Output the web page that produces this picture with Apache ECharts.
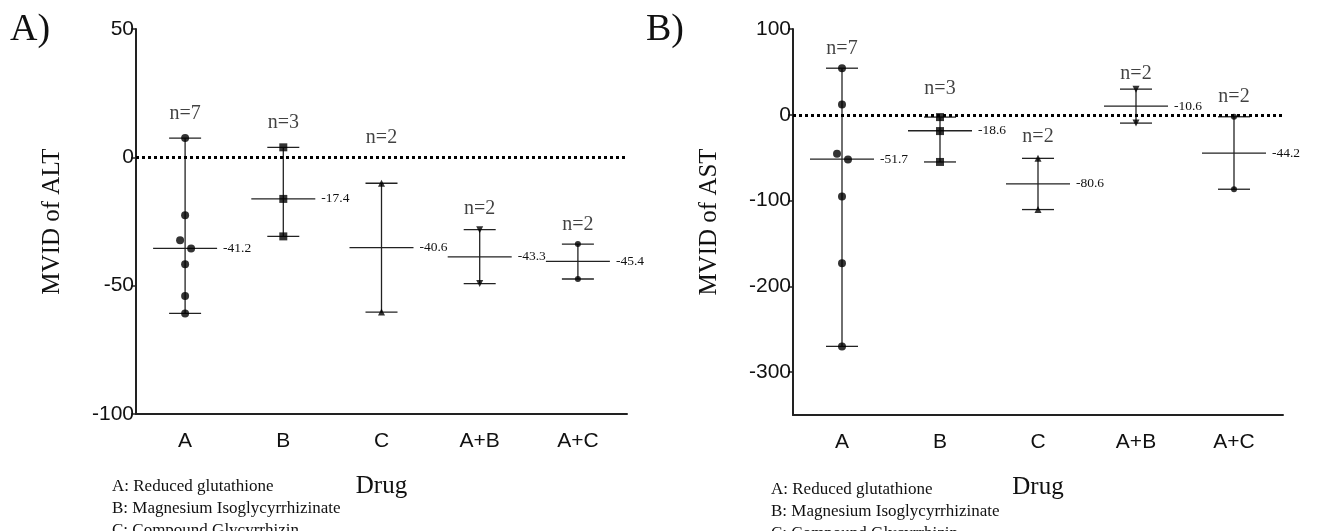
<!DOCTYPE html>
<html>
<head>
<meta charset="utf-8">
<script src="https://cdn.jsdelivr.net/npm/echarts@6/dist/echarts.min.js"></script>
<style>
  html, body { margin: 0; padding: 0; background: #fff; }
  #main { width: 1319px; height: 531px; }
</style>
</head>
<body>
<div id="main"></div>
<script>
// categories on both panels
const categories = ['A', 'B', 'C', 'A+B', 'A+C'];
const drugNames = ['A: Reduced glutathione', 'B: Magnesium Isoglycyrrhizinate', 'C: Compound Glycyrrhizin'];

// A) ALT, individual points per drug group
const altPoints = [
  [7.5, -22.6, -32.3, -35.5, -41.7, -54.0, -60.8],
  [3.9, -16.2, -30.8],
  [-10.1, -60.3],
  [-28.2, -49.2],
  [-33.8, -47.4]
];
const altCenter = [-35.5, -16.2, -35.2, -38.8, -40.5];
const altCenterText = ['-41.2', '-17.4', '-40.6', '-43.3', '-45.4'];
const altN = [7, 3, 2, 2, 2];
const altNPos = [16.8, 13.6, 7.8, -19.9, -26.1];

// B) AST
const astPoints = [
  [54.3, 12.0, -45.3, -52.0, -95.3, -173.0, -270.0],
  [-2.7, -19.0, -55.0],
  [-50.8, -110.5],
  [29.9, -9.7],
  [-2.3, -86.8]
];
const astCenter = [-51.7, -18.6, -80.6, 10.1, -44.6];
const astCenterText = ['-51.7', '-18.6', '-80.6', '-10.6', '-44.2'];
const astN = [7, 3, 2, 2, 2];
const astNPos = [77, 29.9, -25.6, 48, 21.3];

// small sideways shift of overlapping points in group A (px)
const jitterA = [0, 0, -5, 6, 0, 0, 0];
const markers = ['circle', 'rect', 'triangle', 'path://M0,0L10,0L5,9Z', 'circle'];
const markerSize = [8, 8, 7, 7, 6];

const SERIF = '"Liberation Serif", "Times New Roman", serif';
const SANS = '"Liberation Sans", Arial, sans-serif';
const INK = '#111';

function panelSeries(idx, points, center, centerText, n, nPos) {
  // error bar: range line + caps + center line + value text
  const bars = {
    type: 'custom',
    xAxisIndex: idx,
    yAxisIndex: idx,
    z: 2,
    data: points.map((p, i) => [i, Math.min(...p), Math.max(...p), center[i]]),
    renderItem: function (params, api) {
      const x = api.coord([api.value(0), 0])[0];
      const lo = api.coord([api.value(0), api.value(1)])[1];
      const hi = api.coord([api.value(0), api.value(2)])[1];
      const mid = api.coord([api.value(0), api.value(3)])[1];
      const cap = 16, half = 32;
      const st = { stroke: '#222', lineWidth: 1.3 };
      return {
        type: 'group',
        children: [
          { type: 'line', shape: { x1: x, y1: hi, x2: x, y2: lo }, style: st },
          { type: 'line', shape: { x1: x - cap, y1: hi, x2: x + cap, y2: hi }, style: st },
          { type: 'line', shape: { x1: x - cap, y1: lo, x2: x + cap, y2: lo }, style: st },
          { type: 'line', shape: { x1: x - half, y1: mid, x2: x + half, y2: mid }, style: st },
          {
            type: 'text', x: x + half + 6, y: mid,
            style: {
              text: centerText[params.dataIndex], fontSize: 13.5, fontFamily: SERIF,
              fill: INK, align: 'left', verticalAlign: 'middle'
            }
          }
        ]
      };
    },
    markLine: {
      silent: true,
      symbol: 'none',
      label: { show: false },
      lineStyle: { type: 'dotted', width: 3, color: '#000' },
      data: [{ yAxis: 0 }]
    }
  };

  const dots = [];
  points.forEach((p, i) => {
    p.forEach((v, j) => {
      dots.push({
        value: [i, v],
        symbol: markers[i],
        symbolSize: markerSize[i],
        symbolOffset: [i === 0 ? jitterA[j] : 0, 0]
      });
    });
  });
  const scatter = {
    type: 'scatter',
    xAxisIndex: idx,
    yAxisIndex: idx,
    z: 3,
    itemStyle: { color: '#000' },
    data: dots
  };

  const nLabels = {
    type: 'scatter',
    xAxisIndex: idx,
    yAxisIndex: idx,
    symbolSize: 0,
    z: 4,
    label: {
      show: true, position: 'inside', color: INK, fontSize: 20, fontFamily: SERIF,
      formatter: p => 'n=' + n[p.dataIndex]
    },
    data: nPos.map((v, i) => [i, v])
  };
  return [bars, scatter, nLabels];
}

function xAxisFor(idx) {
  return {
    type: 'category',
    gridIndex: idx,
    data: categories,
    boundaryGap: true,
    axisLine: { onZero: false, lineStyle: { color: '#222', width: 2 } },
    axisTick: { alignWithLabel: true, length: 5, lineStyle: { color: '#222', width: 1.5 } },
    axisLabel: { color: INK, fontSize: 21, fontFamily: SANS, margin: 17 },
    name: 'Drug',
    nameLocation: 'middle',
    nameGap: 60,
    nameTextStyle: { color: INK, fontSize: 25, fontFamily: SERIF }
  };
}

function yAxisFor(idx, name, min, max, interval) {
  const ax = {
    type: 'value',
    gridIndex: idx,
    min: min,
    max: max,
    splitLine: { show: false },
    axisLine: { show: true, onZero: false, lineStyle: { color: '#222', width: 2 } },
    axisTick: { show: true, length: 5, lineStyle: { color: '#222', width: 1.5 } },
    axisLabel: { color: INK, fontSize: 21, fontFamily: SANS, margin: 2 },
    name: name,
    nameLocation: 'middle',
    nameGap: 71,
    nameTextStyle: { color: INK, fontSize: 25, fontFamily: SERIF }
  };
  if (interval) ax.interval = interval;
  else ax.axisLabel.showMinLabel = false;
  return ax;
}

var myChart = echarts.init(document.getElementById('main'));
myChart.setOption({
  animation: false,
  backgroundColor: '#fff',
  grid: [
    { left: 136, top: 29, width: 491, height: 385 },
    { left: 793, top: 29, width: 490, height: 386 }
  ],
  xAxis: [xAxisFor(0), xAxisFor(1)],
  yAxis: [
    yAxisFor(0, 'MVID of ALT', -100, 50, 50),
    yAxisFor(1, 'MVID of AST', -350, 100, null)
  ],
  graphic: [
    { type: 'text', left: 10, top: 11, style: { text: 'A)', fontSize: 38, fontFamily: SERIF, fill: INK } },
    { type: 'text', left: 646, top: 11, style: { text: 'B)', fontSize: 38, fontFamily: SERIF, fill: INK } },
    { type: 'text', left: 112, top: 476, style: { text: drugNames.join('\n'), fontSize: 17, lineHeight: 22, fontFamily: SERIF, fill: INK } },
    { type: 'text', left: 771, top: 479, style: { text: drugNames.join('\n'), fontSize: 17, lineHeight: 22, fontFamily: SERIF, fill: INK } }
  ],
  series: [].concat(
    panelSeries(0, altPoints, altCenter, altCenterText, altN, altNPos),
    panelSeries(1, astPoints, astCenter, astCenterText, astN, astNPos)
  )
});
</script>
</body>
</html>
